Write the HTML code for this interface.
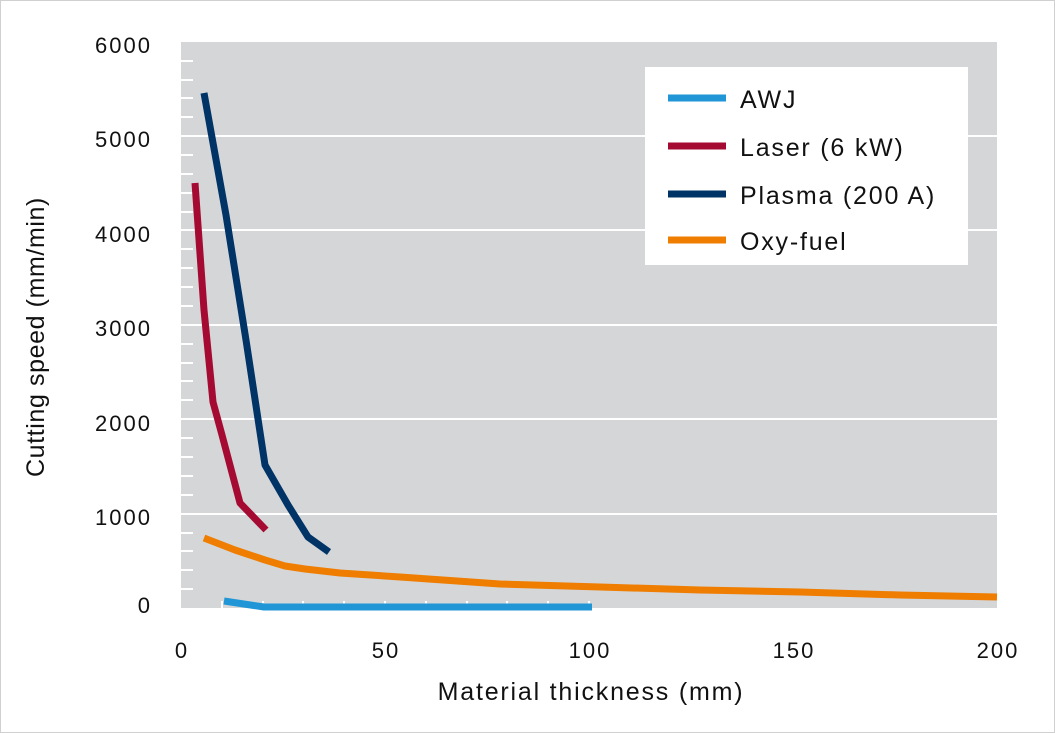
<!DOCTYPE html>
<html><head><style>
body{margin:0;background:#fff;}
svg{display:block;font-family:"Liberation Sans",sans-serif;}
</style></head><body>
<svg width="1055" height="733" viewBox="0 0 1055 733">
<rect x="0.5" y="0.5" width="1054" height="732" fill="#fff" stroke="#d0d0d0"/>
<rect x="181" y="42" width="816" height="566" fill="#d5d6d8"/>
<g stroke="#fff" stroke-width="2">
<line x1="181" y1="136" x2="997" y2="136"/>
<line x1="181" y1="230" x2="997" y2="230"/>
<line x1="181" y1="325" x2="997" y2="325"/>
<line x1="181" y1="419" x2="997" y2="419"/>
<line x1="181" y1="514" x2="997" y2="514"/>
</g>
<g stroke="#fff" stroke-width="2">
<line x1="181" y1="61" x2="193" y2="61"/><line x1="181" y1="80" x2="193" y2="80"/><line x1="181" y1="98" x2="193" y2="98"/><line x1="181" y1="117" x2="193" y2="117"/>
<line x1="181" y1="155" x2="193" y2="155"/><line x1="181" y1="174" x2="193" y2="174"/><line x1="181" y1="193" x2="193" y2="193"/><line x1="181" y1="212" x2="193" y2="212"/>
<line x1="181" y1="249" x2="193" y2="249"/><line x1="181" y1="268" x2="193" y2="268"/><line x1="181" y1="287" x2="193" y2="287"/><line x1="181" y1="306" x2="193" y2="306"/>
<line x1="181" y1="344" x2="193" y2="344"/><line x1="181" y1="363" x2="193" y2="363"/><line x1="181" y1="381" x2="193" y2="381"/><line x1="181" y1="400" x2="193" y2="400"/>
<line x1="181" y1="438" x2="193" y2="438"/><line x1="181" y1="457" x2="193" y2="457"/><line x1="181" y1="476" x2="193" y2="476"/><line x1="181" y1="495" x2="193" y2="495"/>
<line x1="181" y1="533" x2="193" y2="533"/><line x1="181" y1="551" x2="193" y2="551"/><line x1="181" y1="570" x2="193" y2="570"/><line x1="181" y1="589" x2="193" y2="589"/>
</g>
<g stroke="#fff" stroke-width="2">
<line x1="222" y1="601" x2="222" y2="608"/><line x1="263" y1="601" x2="263" y2="608"/><line x1="303" y1="601" x2="303" y2="608"/><line x1="344" y1="601" x2="344" y2="608"/><line x1="385" y1="601" x2="385" y2="608"/><line x1="426" y1="601" x2="426" y2="608"/><line x1="467" y1="601" x2="467" y2="608"/><line x1="507" y1="601" x2="507" y2="608"/><line x1="548" y1="601" x2="548" y2="608"/><line x1="589" y1="601" x2="589" y2="608"/>
</g>
<g fill="none" stroke-width="7" stroke-linejoin="round">
<polyline stroke="#ef7d00" points="204,538 235,550 265,560 285,566 305,569 340,573 400,577 500,584 600,587 700,590 800,592 900,595 997,597"/>
<polyline stroke="#a50a32" points="195,183 204,310 213,402 222,435 240,503 266,530"/>
<polyline stroke="#003366" points="204,93 226,215 246,340 265,465 288,505 308,537 329,552"/>
<polyline stroke="#2096d6" points="224,601 264,607 592,607"/>
</g>
<g font-size="22" fill="#111" text-anchor="end" letter-spacing="2">
<text x="152" y="53">6000</text><text x="152" y="147">5000</text><text x="152" y="242">4000</text><text x="152" y="336">3000</text><text x="152" y="431">2000</text><text x="152" y="525">1000</text><text x="152" y="613">0</text>
</g>
<g font-size="22" fill="#111" text-anchor="middle" letter-spacing="2">
<text x="182" y="658">0</text><text x="386" y="658">50</text><text x="590" y="658">100</text><text x="794" y="658">150</text><text x="998" y="658">200</text>
</g>
<text x="591" y="700" font-size="25" text-anchor="middle" fill="#111" letter-spacing="1.8">Material thickness (mm)</text>
<text transform="translate(44,337) rotate(-90)" font-size="25" text-anchor="middle" fill="#111" letter-spacing="0.6">Cutting speed (mm/min)</text>
<rect x="645" y="67" width="323" height="198" fill="#fff"/>
<g stroke-width="7">
<line x1="668" y1="98" x2="726" y2="98" stroke="#2096d6"/>
<line x1="668" y1="146" x2="726" y2="146" stroke="#a50a32"/>
<line x1="668" y1="194" x2="726" y2="194" stroke="#003366"/>
<line x1="668" y1="240" x2="726" y2="240" stroke="#ef7d00"/>
</g>
<g font-size="25" fill="#111" letter-spacing="1.8">
<text x="740" y="108">AWJ</text><text x="740" y="156">Laser (6 kW)</text><text x="740" y="204">Plasma (200 A)</text><text x="740" y="250">Oxy-fuel</text>
</g>
</svg>
</body></html>
